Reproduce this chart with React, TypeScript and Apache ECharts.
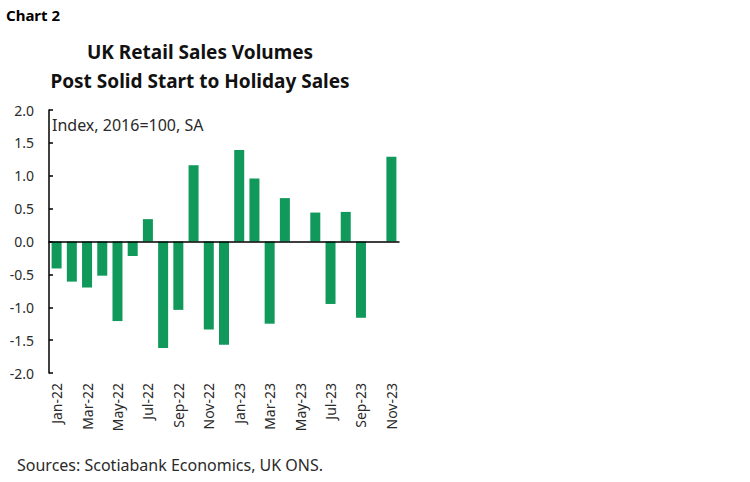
import { useEffect, useRef } from 'react';
import * as echarts from 'echarts';

const months = [
  'Jan-22', 'Feb-22', 'Mar-22', 'Apr-22', 'May-22', 'Jun-22', 'Jul-22', 'Aug-22',
  'Sep-22', 'Oct-22', 'Nov-22', 'Dec-22', 'Jan-23', 'Feb-23', 'Mar-23', 'Apr-23',
  'May-23', 'Jun-23', 'Jul-23', 'Aug-23', 'Sep-23', 'Oct-23', 'Nov-23',
];

// m/m % change in retail sales volumes
const salesChange = [
  -0.41, -0.61, -0.70, -0.52, -1.21, -0.22, 0.34, -1.62,
  -1.04, 1.16, -1.34, -1.57, 1.39, 0.96, -1.25, 0.66,
  0.0, 0.44, -0.95, 0.45, -1.16, 0.0, 1.29,
];

const FONT = 'Noto Sans';
const TEXT = '#2a2a2a';
const GREEN = '#10995b';

export default function App() {
  const ref = useRef<HTMLDivElement | null>(null);

  useEffect(() => {
    document.body.style.margin = '0';
    if (!ref.current) return;
    const chart = echarts.init(ref.current, undefined, { renderer: 'svg' });

    chart.setOption({
      animation: false,
      grid: { left: 49, right: 351, top: 110, bottom: 109 },
      graphic: [
        {
          type: 'text',
          left: 6,
          top: 7,
          style: { text: 'Chart 2', fontFamily: FONT, fontSize: 15, fontWeight: 'bold', fill: '#000' },
        },
        {
          type: 'text',
          x: 200,
          y: 52,
          style: {
            text: 'UK Retail Sales Volumes',
            fontFamily: FONT, fontSize: 19, fontWeight: 'bold', fill: '#111',
            align: 'center', verticalAlign: 'middle',
          },
        },
        {
          type: 'text',
          x: 200,
          y: 81,
          style: {
            text: 'Post Solid Start to Holiday Sales',
            fontFamily: FONT, fontSize: 19, fontWeight: 'bold', fill: '#111',
            align: 'center', verticalAlign: 'middle',
          },
        },
        {
          type: 'text',
          x: 52,
          y: 125,
          style: {
            text: 'Index, 2016=100, SA', fontFamily: FONT, fontSize: 16, fill: TEXT,
            verticalAlign: 'middle',
          },
        },
        {
          type: 'text',
          x: 17,
          y: 465,
          style: {
            text: 'Sources: Scotiabank Economics, UK ONS.', fontFamily: FONT, fontSize: 16, fill: TEXT,
            verticalAlign: 'middle',
          },
        },
      ],
      xAxis: [
        {
          type: 'category',
          data: months,
          z: 5,
          axisLine: { onZero: true, lineStyle: { color: '#000', width: 1.5 } },
          axisTick: { interval: 1, length: 4, lineStyle: { color: '#000', width: 1.5 } },
          axisLabel: { show: false },
        },
        {
          type: 'category',
          data: months,
          position: 'bottom',
          axisLine: { show: false, onZero: false },
          axisTick: { show: false },
          axisLabel: {
            interval: 1,
            rotate: 90,
            margin: 10,
            fontFamily: FONT,
            fontSize: 14,
            color: TEXT,
          },
        },
      ],
      yAxis: {
        type: 'value',
        min: -2,
        max: 2,
        interval: 0.5,
        axisLine: { show: true, lineStyle: { color: '#000', width: 1.5 } },
        axisTick: { show: true, inside: true, length: 4, lineStyle: { color: '#000', width: 1.5 } },
        splitLine: { show: false },
        axisLabel: {
          margin: 15,
          fontFamily: FONT,
          fontSize: 14,
          color: TEXT,
          formatter: (v: number) => v.toFixed(1),
        },
      },
      series: [
        {
          type: 'bar',
          data: salesChange,
          barWidth: 10,
          itemStyle: { color: GREEN },
        },
      ],
    });

    return () => chart.dispose();
  }, []);

  return <div ref={ref} style={{ width: 750, height: 482 }} />;
}
